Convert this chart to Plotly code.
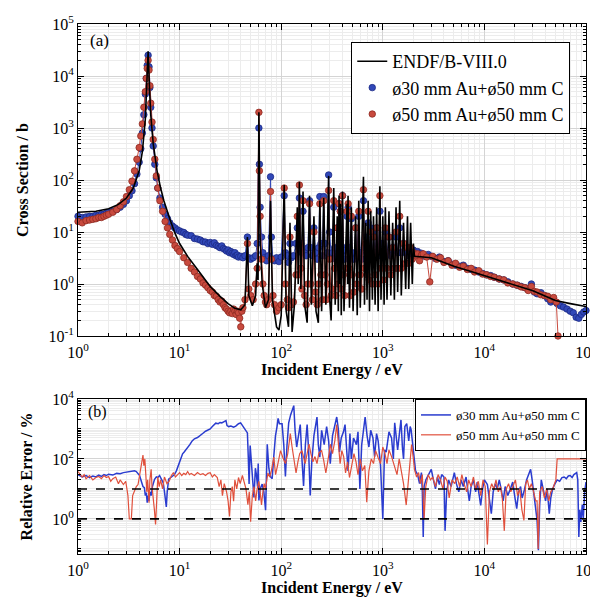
import numpy as np
import plotly.graph_objects as go

# ---------------- data ----------------
# ENDF/B-VIII.0 capture cross section: (energy eV, cross section b)
ENDF_POINTS = [
    (1.0, 24), (1.5, 25), (2.0, 28), (2.5, 34), (3.0, 45), (3.5, 70), (4.0, 150), (4.3, 350),
    (4.6, 1500), (4.75, 6000), (4.9, 30000), (5.05, 6000), (5.2, 1800), (5.5, 500), (6.0, 150),
    (6.5, 70), (7.0, 40), (8.0, 18), (9.0, 9.5), (10, 6), (12, 3.4), (15, 1.9), (20, 0.9),
    (25, 0.58), (30, 0.42), (35, 0.34), (40, 0.32), (44, 0.4), (46.5, 8), (48, 0.6), (52, 0.38),
    (56, 0.6), (58, 2.5), (59.2, 1.2), (60.3, 2000), (62, 8), (65, 1.0), (70, 0.35), (75, 0.5),
    (78.5, 40), (82, 0.5), (90, 0.15), (95, 0.13), (100, 0.25), (107, 80), (112, 0.3),
    (118, 0.15), (122, 15), (128, 0.12), (135, 0.4), (144, 30), (147, 1), (151, 93), (156, 0.8),
    (164, 60), (170, 0.4), (180, 0.18), (190, 50), (198, 0.4), (210, 20), (220, 0.3),
    (232, 0.18), (240, 40), (250, 0.3), (262, 45), (275, 0.4), (293, 120), (300, 0.5),
    (310, 0.2), (329, 70), (340, 0.4), (356, 20), (365, 0.3), (371, 50), (377, 1), (382, 35),
    (390, 0.25), (401, 60), (415, 0.3), (445, 35), (450, 1), (455, 50), (470, 0.35), (490, 30),
    (510, 0.3), (540, 20), (560, 0.25), (580, 40), (600, 0.35), (645, 115), (660, 0.4),
    (680, 15), (700, 0.5), (717, 40), (740, 0.3), (760, 25), (790, 0.5), (810, 20), (840, 0.4),
    (870, 30), (900, 0.3), (936, 76), (960, 0.5), (1000, 20), (1030, 0.4), (1060, 30),
    (1100, 0.5), (1150, 25), (1200, 0.6), (1250, 15), (1300, 0.5), (1350, 30), (1400, 0.7),
    (1468, 40), (1520, 0.6), (1600, 15), (1680, 0.8), (1750, 20), (1800, 0.8), (1880, 15),
    (1950, 1.0), (2000, 6), (2050, 3.4), (2500, 3.3), (3000, 3.2), (4000, 2.6), (5000, 2.2),
    (7000, 1.8), (10000, 1.45), (15000, 1.15), (20000, 0.95), (30000, 0.74), (40000, 0.58),
    (50000, 0.48), (70000, 0.42), (100000, 0.37),
]

# measured cross section, phi30 mm Au + phi50 mm C
BLUE_XS_POINTS = [
    (1.0, 20), (1.1, 19), (1.2, 19.5), (1.3, 20), (1.4, 20), (1.5, 21), (1.6, 21), (1.7, 22),
    (1.8, 22), (1.9, 23), (2.0, 24), (2.2, 25), (2.4, 27), (2.6, 30), (2.8, 34), (3.0, 40),
    (3.2, 50), (3.4, 62), (3.6, 85), (3.8, 130), (4.0, 220), (4.15, 400), (4.3, 800),
    (4.45, 1800), (4.6, 4500), (4.7, 9000), (4.8, 16000), (4.9, 25000), (5.0, 15000),
    (5.1, 6000), (5.2, 2500), (5.35, 1000), (5.5, 450), (5.7, 200), (5.9, 110), (6.1, 70),
    (6.4, 45), (6.8, 30), (7.2, 22), (7.6, 18), (8.0, 15), (8.5, 13), (9.0, 12), (9.5, 11),
    (10, 10.5), (10.5, 10), (11, 9.8), (11.5, 9), (12, 8.7), (13, 8.5), (14, 7.5), (15, 7.3),
    (16, 7), (17, 6.5), (18, 6.4), (19, 6), (20, 6.3), (21, 5.8), (22, 6.2), (23, 5.5),
    (24, 5.3), (25, 5.0), (26, 5.4), (27, 4.8), (28, 4.6), (29, 4.3), (30, 4.5), (31, 4.0),
    (32, 4.2), (33, 3.9), (34, 3.7), (35, 4.0), (36, 3.5), (37, 3.6), (38, 3.3), (40, 3.4),
    (42, 3.2), (44, 3.5), (46.5, 8), (48, 3.2), (50, 3.0), (53, 3.2), (56, 3.5), (58, 6),
    (60.3, 1000), (61, 200), (62, 30), (64, 8), (66, 4), (68, 3.2), (70, 3), (72, 2.8),
    (75, 3.5), (78.5, 115), (80, 8), (83, 3), (86, 2.8), (90, 3.2), (95, 2.7), (100, 3.3),
    (107, 50), (110, 4), (115, 3.5), (118, 2.6), (122, 6), (126, 3.2), (132, 3.5), (140, 6),
    (144, 12), (148, 5), (151, 45), (156, 6), (160, 4), (164, 25), (170, 4), (176, 3.5),
    (183, 5), (190, 40), (196, 5), (203, 3.5), (210, 12), (218, 4), (226, 3), (233, 5),
    (240, 48), (246, 6), (255, 3.5), (262, 48), (270, 6), (278, 3.5), (285, 4), (293, 125),
    (300, 10), (310, 3.5), (320, 4), (329, 30), (336, 5), (345, 3), (356, 12), (365, 4),
    (372, 35), (382, 25), (392, 4), (401, 50), (410, 5), (420, 3), (432, 4.5), (445, 20),
    (456, 30), (465, 5), (478, 3), (490, 18), (500, 4), (520, 3), (540, 12), (555, 3.5),
    (580, 20), (600, 4), (620, 3), (645, 40), (660, 5), (680, 8), (700, 3.5), (717, 15),
    (735, 4), (760, 12), (790, 3), (810, 10), (840, 4), (870, 12), (900, 3.5), (936, 25),
    (960, 4), (990, 6), (1020, 3.5), (1060, 10), (1100, 4), (1150, 8), (1200, 3.5), (1250, 5),
    (1300, 4.5), (1350, 8), (1400, 4), (1468, 12), (1520, 4), (1600, 6), (1680, 4), (1750, 5),
    (1800, 3.5), (1880, 4.5), (1950, 3.8), (2000, 4.5), (2100, 3.8), (2200, 4.2), (2300, 3.6),
    (2400, 3.9), (2600, 3.4), (2800, 3.7), (3000, 3.4), (3300, 3.1), (3600, 3.3), (4000, 2.7),
    (4400, 2.8), (4800, 2.4), (5200, 2.3), (5700, 2.2), (6200, 2.3), (6800, 2.0), (7400, 1.9),
    (8000, 1.85), (8800, 1.7), (9600, 1.6), (10500, 1.5), (11500, 1.45), (12500, 1.35),
    (14000, 1.25), (15500, 1.2), (17000, 1.1), (19000, 1.0), (21000, 0.95), (23000, 0.9),
    (25000, 0.85), (27000, 0.8), (29000, 1.0), (31000, 0.7), (33000, 0.65), (36000, 0.68),
    (39000, 0.6), (42000, 0.52), (45000, 0.45), (48000, 0.48), (52000, 0.42), (56000, 0.38),
    (60000, 0.36), (65000, 0.33), (70000, 0.3), (75000, 0.28), (80000, 0.23), (85000, 0.22),
    (90000, 0.26), (95000, 0.29), (100000, 0.31),
]

# measured cross section, phi50 mm Au + phi50 mm C
RED_XS_POINTS = [
    (1.0, 16), (1.1, 15), (1.2, 16.5), (1.3, 17), (1.4, 17.5), (1.5, 18), (1.6, 19), (1.7, 19),
    (1.8, 20), (1.9, 21), (2.0, 22), (2.2, 24), (2.4, 27), (2.6, 32), (2.8, 38), (3.0, 48),
    (3.2, 65), (3.4, 95), (3.6, 150), (3.8, 250), (4.0, 420), (4.15, 700), (4.3, 1200),
    (4.45, 2500), (4.6, 5000), (4.7, 9000), (4.8, 14000), (4.9, 20000), (5.0, 13000),
    (5.1, 6500), (5.2, 3000), (5.35, 1300), (5.5, 600), (5.7, 250), (5.9, 120), (6.1, 70),
    (6.4, 40), (6.8, 25), (7.2, 16), (7.6, 12), (8.0, 9), (8.5, 7), (9.0, 5.5), (9.5, 4.8),
    (10, 4.2), (11, 3.2), (12, 2.6), (13, 2.0), (14, 1.7), (15, 1.4), (16, 1.25), (17, 1.05),
    (18, 0.95), (19, 0.85), (20, 0.75), (21, 0.7), (22, 0.6), (23, 0.58), (24, 0.5), (25, 0.45),
    (26, 0.47), (27, 0.4), (28, 0.35), (29, 0.33), (30, 0.3), (31, 0.28), (32, 0.3), (33, 0.27),
    (34, 0.33), (35, 0.3), (36, 0.26), (37, 0.3), (38, 0.28), (39, 0.22), (40, 0.15), (41, 0.3),
    (42, 0.35), (44, 0.5), (46.5, 6), (48, 0.8), (50, 0.6), (53, 0.5), (56, 1.0), (58, 2),
    (60.3, 2000), (61, 150), (62, 20), (64, 3), (66, 1), (68, 0.6), (70, 0.45), (72, 0.4),
    (75, 0.5), (78.5, 60), (80, 3), (83, 0.6), (86, 0.4), (90, 0.3), (95, 0.35), (100, 0.4),
    (107, 70), (110, 1), (115, 0.5), (118, 0.35), (122, 8), (126, 0.4), (132, 0.45), (140, 1.5),
    (144, 20), (148, 1.5), (151, 80), (156, 2), (160, 0.8), (164, 40), (170, 0.6), (176, 0.4),
    (183, 1), (190, 35), (196, 1), (203, 0.5), (210, 10), (218, 0.7), (226, 0.4), (233, 1),
    (240, 35), (246, 1.5), (255, 0.5), (262, 40), (270, 1.5), (278, 0.5), (285, 1), (293, 63),
    (300, 3), (310, 0.6), (320, 0.8), (329, 40), (336, 2), (345, 0.6), (356, 12), (365, 1),
    (372, 35), (382, 25), (392, 0.8), (401, 50), (410, 1.5), (420, 0.6), (432, 2), (445, 25),
    (456, 35), (465, 2), (478, 0.6), (490, 20), (500, 1.5), (520, 0.7), (540, 12), (555, 1),
    (580, 25), (600, 1.5), (620, 0.8), (645, 65), (660, 2), (680, 6), (700, 1.5), (717, 25),
    (735, 1.2), (760, 10), (790, 1), (810, 8), (840, 1.5), (870, 12), (900, 1), (936, 50),
    (960, 2), (990, 4), (1020, 1.2), (1060, 12), (1100, 2), (1150, 8), (1200, 1.5), (1250, 5),
    (1300, 2), (1350, 10), (1400, 2), (1468, 20), (1520, 2), (1600, 6), (1680, 2.5), (1750, 5),
    (1800, 2.5), (1880, 5), (1950, 3), (2000, 4), (2100, 3.5), (2200, 3.8), (2300, 2.8),
    (2400, 3.6), (2500, 3.8), (2700, 3.3), (2900, 1.1), (3100, 3.4), (3400, 3.0), (3700, 3.2),
    (4000, 2.6), (4400, 2.8), (4800, 2.3), (5200, 2.5), (5700, 2.1), (6200, 2.2), (6800, 1.9),
    (7400, 2.0), (8000, 1.7), (8800, 1.8), (9600, 1.55), (10500, 1.5), (11500, 1.4),
    (12500, 1.35), (14000, 1.25), (15500, 1.2), (17000, 1.05), (19000, 1.0), (21000, 0.95),
    (23000, 0.88), (25000, 0.85), (27000, 0.75), (29000, 0.9), (31000, 0.72), (33000, 0.7),
    (36000, 0.62), (39000, 0.6), (42000, 0.58), (45000, 0.5), (48000, 0.55), (51000, 0.45),
    (53000, 0.1),
]

# relative error (%), phi30 mm Au + phi50 mm C
BLUE_ERR_POINTS = [
    (1.0, 30), (1.1, 25), (1.2, 28), (1.3, 24), (1.4, 27), (1.5, 25), (1.6, 29), (1.7, 26),
    (1.8, 30), (1.9, 28), (2.0, 31), (2.2, 29), (2.4, 33), (2.6, 32), (2.8, 35), (3.0, 36),
    (3.2, 38), (3.4, 37), (3.6, 40), (3.75, 38), (3.9, 33), (4.04, 28), (4.2, 18), (4.36, 12),
    (4.5, 11), (4.6, 6), (4.7, 7.6), (4.8, 3.5), (4.9, 6), (5.0, 4), (5.1, 8), (5.25, 6),
    (5.4, 12), (5.55, 18), (5.67, 21), (5.9, 25), (6.1, 24), (6.35, 28), (6.6, 22), (6.9, 16),
    (7.1, 8), (7.25, 3), (7.4, 2.5), (7.55, 8), (7.8, 21), (8.2, 24), (8.6, 28), (8.9, 30),
    (9.3, 40), (9.7, 60), (10.0, 90), (10.4, 130), (10.7, 148), (11.1, 170), (11.5, 195),
    (12, 230), (12.6, 300), (13.3, 400), (14, 470), (15, 520), (16, 600), (17, 720), (18, 840),
    (19, 900), (20, 1000), (21, 1200), (22.7, 1560), (24, 1500), (25, 1650), (26, 1600),
    (27.5, 1780), (28.6, 1900), (29.3, 1300), (30.5, 1200), (32, 1250), (34, 1150),
    (35.7, 1250), (37, 1400), (38, 1500), (39.9, 1600), (41.5, 1300), (43, 1100), (45, 900),
    (46.5, 740), (47.5, 100), (48.3, 14.5), (49.5, 280), (51, 60), (52.5, 12), (53.9, 5.2),
    (55, 20), (55.7, 49), (57, 30), (58.5, 12), (59.4, 70), (60.3, 4.1), (62, 10), (65, 14.5),
    (67.5, 8), (70.2, 1.95), (72.9, 310), (75.6, 49), (78, 26), (81.5, 22), (84.5, 120),
    (87.8, 590), (91, 1200), (93.2, 2250), (96, 1500), (102, 1500), (106, 300), (110, 26),
    (114, 280), (118.5, 1600), (124, 3000), (133, 6000), (137, 900), (142, 250), (148, 600),
    (154, 1400), (160, 100), (166, 12.5), (173, 300), (180, 1400), (186, 200), (193, 6),
    (200, 80), (210, 600), (225, 2500), (232, 300), (240, 115), (250, 900), (265, 300),
    (280, 1200), (293, 400), (304, 70), (320, 600), (335, 1200), (352, 2500), (365, 1000),
    (375, 170), (390, 500), (410, 800), (425, 1400), (440, 300), (455, 40), (475, 700),
    (490, 100), (515, 500), (550, 300), (570, 800), (595, 10), (620, 300), (645, 1000),
    (670, 2500), (700, 600), (730, 250), (760, 900), (800, 500), (830, 120), (868, 700),
    (900, 400), (950, 60), (1000, 1.0), (1040, 200), (1080, 170), (1150, 800), (1220, 500),
    (1270, 100), (1310, 1600), (1360, 400), (1400, 200), (1450, 600), (1510, 2000), (1560, 240),
    (1600, 100), (1650, 1200), (1720, 1500), (1800, 400), (1860, 1200), (1900, 950),
    (1970, 300), (2050, 70), (2100, 40), (2200, 30), (2300, 15), (2400, 35), (2450, 8),
    (2500, 0.25), (2550, 12), (2650, 20), (2800, 30), (3000, 45), (3150, 20), (3300, 10),
    (3450, 25), (3600, 14), (3800, 30), (4000, 25), (4100, 0.4), (4250, 8), (4450, 20),
    (4700, 12), (5060, 35), (5300, 15), (5600, 8), (5900, 20), (6200, 12), (6600, 25),
    (6900, 8), (7100, 4), (7400, 12), (7800, 20), (8200, 8), (8500, 17), (8900, 6), (9200, 2.8),
    (9600, 10), (10000, 20), (10700, 14), (11200, 5), (11700, 1.5), (12200, 8), (12800, 15),
    (13400, 10), (14000, 20), (14600, 10), (15300, 4), (16000, 12), (17000, 6), (18000, 10),
    (19000, 17), (20000, 5), (20800, 2.2), (21700, 8), (22700, 12), (23500, 5), (24500, 8),
    (26000, 20), (27300, 30), (28500, 45), (29500, 20), (30500, 8), (31500, 3), (33000, 0.9),
    (34000, 0.09), (35000, 3), (36300, 20), (38000, 8), (40000, 4), (41500, 10), (43500, 1.5),
    (45000, 5), (47000, 10), (49000, 14), (52000, 20), (55000, 18), (58000, 24), (61000, 25),
    (64000, 22), (67000, 27), (70000, 28), (73000, 24), (76000, 30), (79000, 33), (81000, 35),
    (83000, 20), (85000, 0.25), (87000, 2), (89000, 0.8), (92000, 3), (94000, 1), (97000, 8),
    (100000, 17),
]

# relative error (%), phi50 mm Au + phi50 mm C
RED_ERR_POINTS = [
    (1.0, 38), (1.05, 30), (1.1, 25), (1.15, 30), (1.2, 22), (1.3, 28), (1.4, 20), (1.5, 24),
    (1.6, 26), (1.7, 22), (1.8, 28), (1.9, 24), (2.0, 26), (2.1, 18), (2.2, 22), (2.35, 25),
    (2.5, 15), (2.6, 20), (2.8, 14), (2.95, 18), (3.1, 6), (3.2, 1.0), (3.35, 1.0), (3.45, 6),
    (3.6, 9), (3.75, 12), (3.9, 14), (4.05, 30), (4.2, 80), (4.36, 135), (4.45, 60), (4.55, 100),
    (4.65, 30), (4.75, 8), (4.85, 20), (5.0, 3.5), (5.1, 20), (5.25, 45), (5.35, 12), (5.5, 6),
    (5.65, 2), (5.8, 0.65), (5.95, 8), (6.1, 25), (6.3, 12), (6.5, 20), (6.8, 10), (7.1, 25),
    (7.5, 15), (7.9, 18), (8.3, 28), (8.7, 35), (9.1, 25), (9.5, 30), (10, 35), (10.5, 28),
    (11, 33), (11.5, 30), (12, 38), (12.5, 30), (13, 33), (14, 28), (15, 35), (16, 30),
    (17, 32), (18, 28), (19, 33), (20, 35), (21, 25), (22, 30), (23.5, 24), (24.5, 12),
    (25.5, 20), (26.4, 6), (27.5, 15), (29, 8), (30, 4), (31, 1.2), (32, 8), (33, 12),
    (34, 3.9), (35, 20), (36.5, 10), (38, 24), (39.5, 15), (41.5, 28), (43, 18), (45, 10),
    (47, 3), (48.5, 8), (50, 0.8), (52, 6), (54, 12), (56, 4), (58, 10), (60.3, 18), (62, 8),
    (64, 2.9), (66, 8), (68, 15), (70, 10), (72, 18), (74, 34), (77, 25), (80, 40),
    (84.6, 115), (88, 30), (92, 60), (98.5, 190), (104, 110), (110, 70), (116, 150),
    (123, 700), (128, 250), (134, 100), (140, 34), (146, 80), (152, 150), (160, 190),
    (166, 100), (172, 70), (180, 150), (188, 310), (196, 150), (205, 80), (215, 120),
    (225, 70), (235, 160), (250, 190), (262, 90), (275, 34), (290, 100), (305, 310),
    (320, 150), (337, 400), (352, 1400), (365, 300), (380, 70), (395, 190), (412, 120),
    (430, 34), (450, 80), (470, 24), (495, 60), (520, 150), (545, 80), (570, 30), (600, 100),
    (630, 40), (665, 60), (695, 3.6), (730, 40), (770, 100), (810, 70), (850, 190), (900, 110),
    (950, 70), (1000, 250), (1050, 150), (1100, 70), (1150, 200), (1220, 120), (1300, 60),
    (1380, 30), (1450, 100), (1530, 40), (1600, 15), (1700, 2.9), (1780, 20), (1850, 80),
    (1920, 300), (2000, 100), (2050, 45), (2150, 25), (2250, 35), (2350, 15), (2450, 30),
    (2550, 1.0), (2650, 12), (2800, 30), (2950, 20), (3100, 25), (3300, 12), (3500, 30),
    (3700, 20), (3900, 10), (4100, 25), (4300, 18), (4500, 5), (4800, 20), (5100, 15),
    (5400, 25), (5700, 12), (6000, 30), (6300, 15), (6700, 8), (7000, 20), (7400, 12),
    (7800, 25), (8200, 10), (8700, 18), (9200, 6), (9700, 20), (10200, 12), (10700, 0.14),
    (11200, 8), (11800, 15), (12400, 10), (13000, 20), (13700, 8), (14400, 12), (15000, 5),
    (15700, 0.4), (16400, 10), (17300, 15), (18200, 8), (19200, 12), (20200, 20), (21200, 6),
    (22300, 10), (23400, 2), (24500, 0.9), (25500, 15), (26500, 20), (27700, 10), (29000, 15),
    (30500, 8), (32000, 4), (33000, 4), (33800, 0.1), (35000, 8), (37000, 12), (39000, 5),
    (41000, 10), (43000, 4), (45000, 8), (47000, 10), (49000, 15), (50500, 20), (52000, 100),
    (100000, 100),
]

ERROR_LEVELS = [10, 1]          # dashed reference lines (%)
X_RANGE = [1, 1e5]
LABEL_ENDF = "ENDF/B-VIII.0"
LABEL_BLUE = "ø30 mm Au+ø50 mm C"
LABEL_RED = "ø50 mm Au+ø50 mm C"

# ---------------- styling ----------------
FONT = "Liberation Serif"
BLUE_FILL, BLUE_EDGE = "#3148b8", "#1c2a85"
RED_FILL, RED_EDGE = "#c84a3e", "#8e2b22"
BLUE_LINE, RED_LINE = "#2a3ccf", "#e0503c"


def unzip(points):
    e, v = zip(*points)
    return list(e), list(v)


endf_e, endf_v = unzip(ENDF_POINTS)
bxs_e, bxs_v = unzip(BLUE_XS_POINTS)
rxs_e, rxs_v = unzip(RED_XS_POINTS)
berr_e, berr_v = unzip(BLUE_ERR_POINTS)
rerr_e, rerr_v = unzip(RED_ERR_POINTS)

fig = go.Figure()

# --- panel (a)
for e, v, fill, edge, name, rank in [
    (bxs_e, bxs_v, BLUE_FILL, BLUE_EDGE, LABEL_BLUE, 2),
    (rxs_e, rxs_v, RED_FILL, RED_EDGE, LABEL_RED, 3),
]:
    fig.add_trace(go.Scatter(x=e, y=v, mode="lines", line=dict(color=fill, width=1),
                             showlegend=False, hoverinfo="skip", xaxis="x", yaxis="y"))
    fig.add_trace(go.Scatter(x=e, y=v, mode="markers", name=name, legend="legend",
                             legendrank=rank, cliponaxis=False,
                             marker=dict(size=6.5, color=fill, line=dict(color=edge, width=0.8)),
                             xaxis="x", yaxis="y"))

fig.add_trace(go.Scatter(x=endf_e, y=endf_v, mode="lines", name=LABEL_ENDF, legend="legend",
                         legendrank=1, line=dict(color="black", width=1.6),
                         xaxis="x", yaxis="y"))

# --- panel (b)
fig.add_trace(go.Scatter(x=berr_e, y=berr_v, mode="lines", name=LABEL_BLUE, legend="legend2",
                         legendrank=1, line=dict(color=BLUE_LINE, width=1.5),
                         xaxis="x2", yaxis="y2"))
fig.add_trace(go.Scatter(x=rerr_e, y=rerr_v, mode="lines", name=LABEL_RED, legend="legend2",
                         legendrank=2, line=dict(color=RED_LINE, width=1.2),
                         xaxis="x2", yaxis="y2"))
for lvl in ERROR_LEVELS:
    fig.add_trace(go.Scatter(x=X_RANGE, y=[lvl, lvl], mode="lines", showlegend=False,
                             line=dict(color="black", width=1.6, dash="dash"),
                             hoverinfo="skip", xaxis="x2", yaxis="y2"))


def sup(k):
    return "10<sup>%d</sup>" % k


def minor_vals(lo, hi):
    return [m * 10.0 ** k for k in range(lo, hi) for m in range(1, 10)]


axis_common = dict(type="log", showline=True, linecolor="black", linewidth=1, mirror="allticks",
                   ticks="inside", ticklen=6, tickcolor="black", showgrid=True,
                   gridcolor="#d4d4d4", gridwidth=1, zeroline=False, automargin=False,
                   ticklabeloverflow="allow",
                   tickfont=dict(family=FONT, size=16, color="black"))

xt = list(range(0, 6))
xaxis = dict(axis_common, domain=[0, 1], anchor="y", range=[0, 5],
             tickmode="array", tickvals=[10.0 ** k for k in xt], ticktext=[sup(k) for k in xt],
             ticklabelstandoff=2,
             minor=dict(tickmode="array", tickvals=minor_vals(0, 5), ticks="inside", ticklen=3,
                        tickcolor="black", showgrid=True, gridcolor="#ececec"),
             title=dict(text="<b>Incident Energy / eV</b>", standoff=3,
                        font=dict(family=FONT, size=16, color="black")))
xaxis2 = dict(xaxis, anchor="y2")

yt = list(range(-1, 6))
yaxis = dict(axis_common, domain=[0.4113, 1], anchor="x", range=[-1, 5],
             tickmode="array", tickvals=[10.0 ** k for k in yt], ticktext=[sup(k) for k in yt],
             minor=dict(tickmode="array", tickvals=minor_vals(-1, 5), ticks="inside", ticklen=3,
                        tickcolor="black", showgrid=True, gridcolor="#ececec"),
             title=dict(text="<b>Cross Section / b</b>", standoff=15,
                        font=dict(family=FONT, size=16, color="black")))

yt2 = [0, 2, 4]
yaxis2 = dict(axis_common, domain=[0, 0.2925], anchor="x2", range=[-1.17, 4],
              tickmode="array", tickvals=[10.0 ** k for k in yt2], ticktext=[sup(k) for k in yt2],
              minor=dict(tickmode="array", tickvals=minor_vals(-2, 4), ticks="inside", ticklen=3,
                         tickcolor="black", showgrid=True, gridcolor="#ececec"),
              title=dict(text="<b>Relative Error / %</b>", standoff=15,
                         font=dict(family=FONT, size=16, color="black")))

fig.update_layout(
    width=590, height=600,
    margin=dict(l=70, r=12, t=16, b=54),
    paper_bgcolor="white", plot_bgcolor="white",
    font=dict(family=FONT, color="black"),
    xaxis=xaxis, yaxis=yaxis, xaxis2=xaxis2, yaxis2=yaxis2,
    legend=dict(x=0.969, y=0.966, xanchor="right", yanchor="top", bgcolor="white",
                bordercolor="black", borderwidth=1, font=dict(family=FONT, size=18),
                tracegroupgap=0, itemwidth=30),
    legend2=dict(x=1.0, y=0.2925, xanchor="right", yanchor="top", bgcolor="white",
                 bordercolor="black", borderwidth=1, font=dict(family=FONT, size=13),
                 tracegroupgap=0, itemwidth=30),
    annotations=[
        dict(text="(a)", xref="x domain", yref="y domain", x=0.02, y=0.985, showarrow=False,
             xanchor="left", yanchor="top", font=dict(family=FONT, size=17)),
        dict(text="(b)", xref="x2 domain", yref="y2 domain", x=0.015, y=0.99, showarrow=False,
             xanchor="left", yanchor="top", font=dict(family=FONT, size=16)),
    ],
    showlegend=True,
)

fig.write_html("out.html")
